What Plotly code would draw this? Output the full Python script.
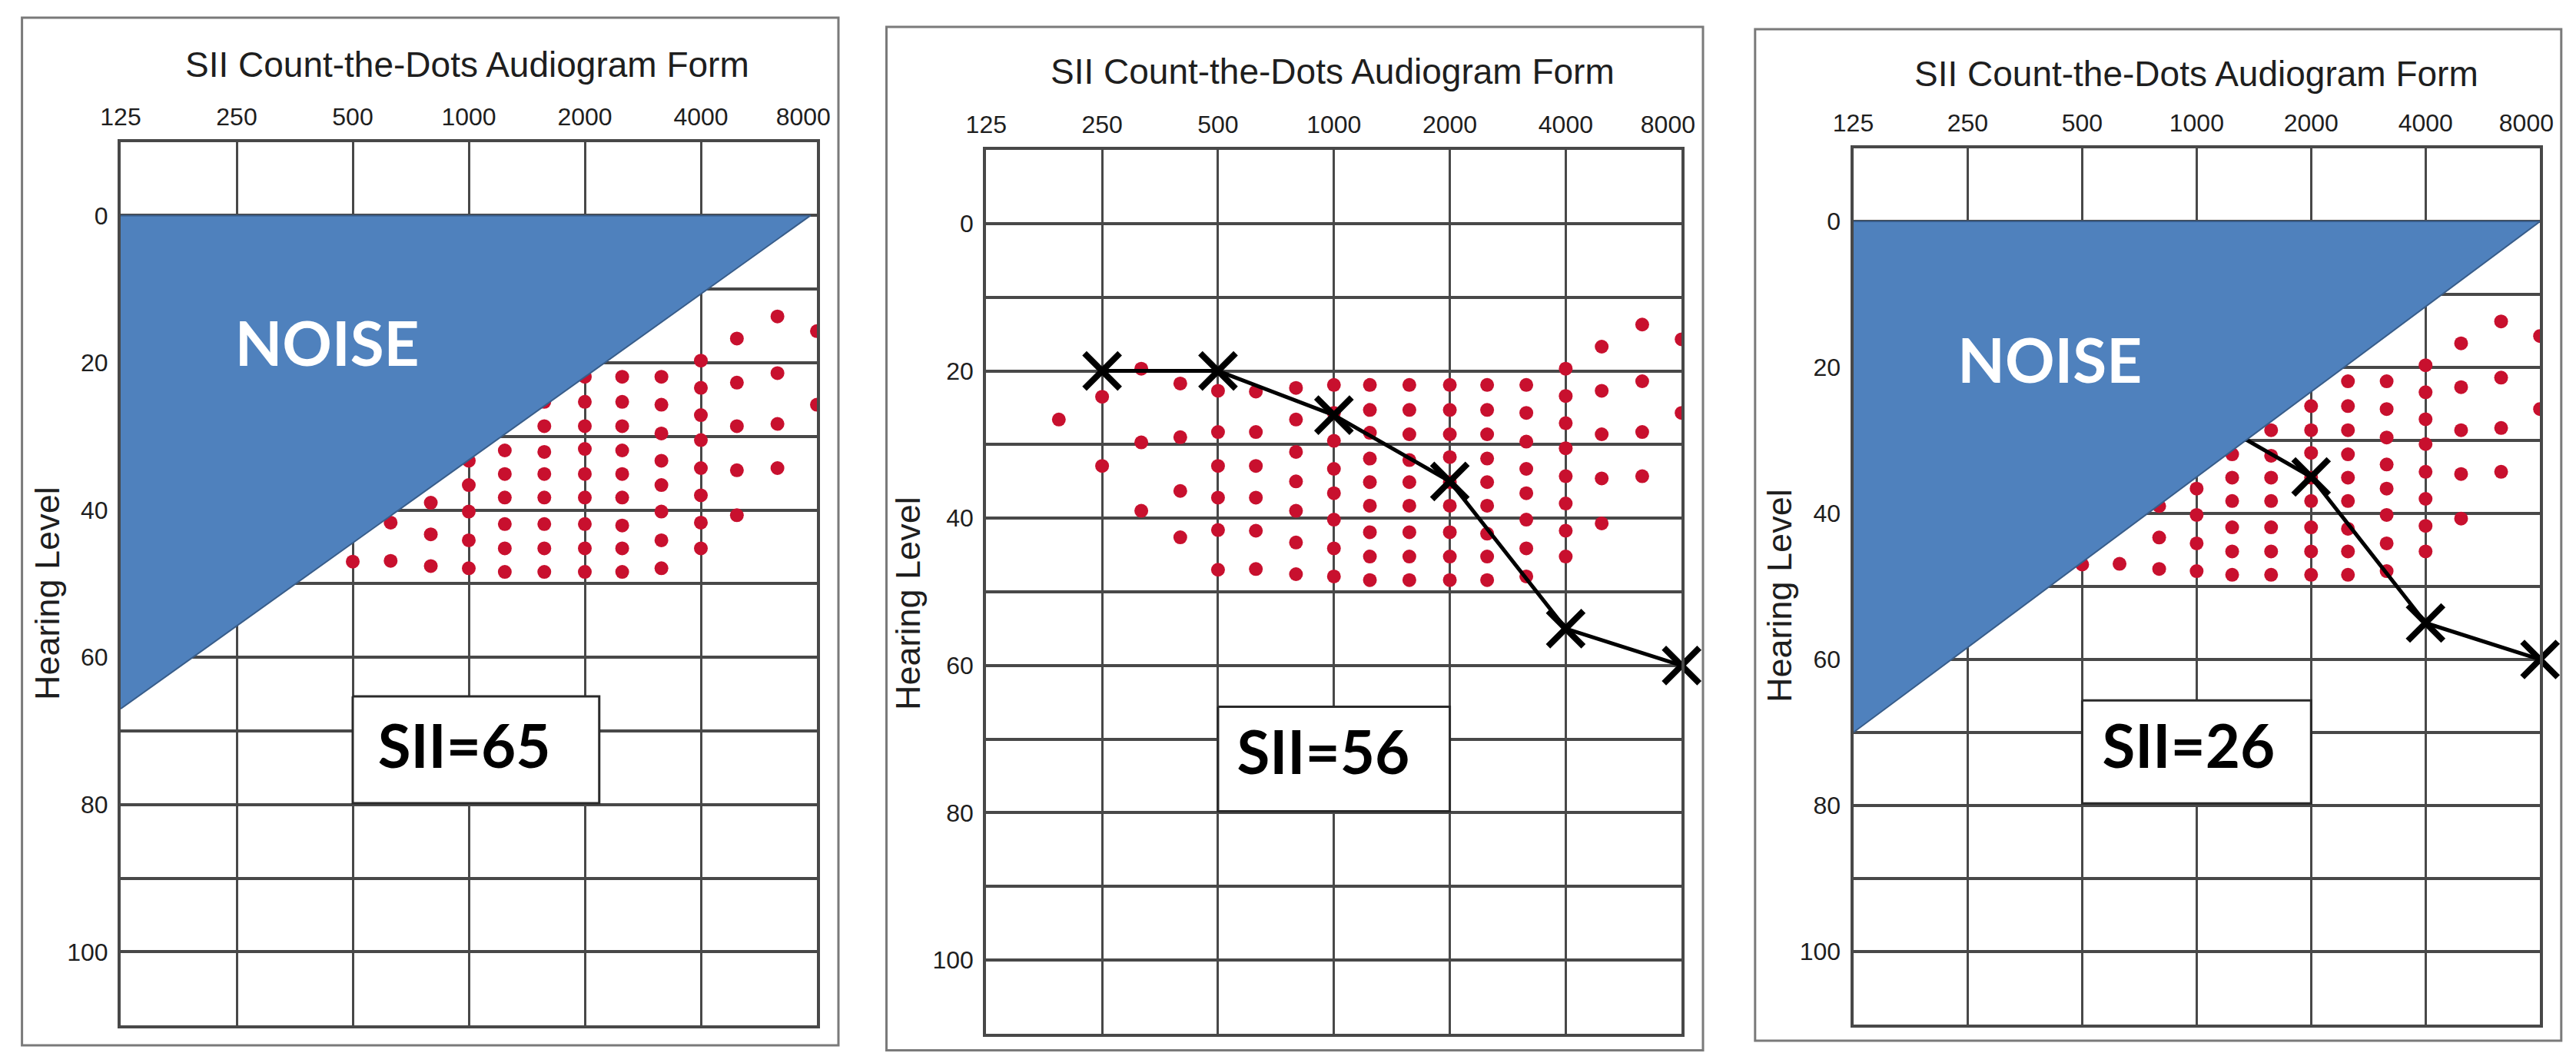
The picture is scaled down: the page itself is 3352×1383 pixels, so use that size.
import numpy as np
import plotly.graph_objects as go

W, H = 3352, 1383

# ---------------- data ----------------
freq_ticks = [125, 250, 500, 1000, 2000, 4000, 8000]
freq_tick_labels = ["125", "250", "500", "1000", "2000", "4000", "8000\u00a0\u00a0\u00a0\u00a0"]
level_ticks = [0, 20, 40, 60, 80, 100]

dot_columns_hz = [193, 250, 316, 399, 500, 627, 797, 1000, 1240, 1570,
                  2000, 2500, 3160, 4000, 4960, 6320, 8000]
dot_levels_db = [
    [26.6],
    [23.5, 32.9],
    [19.7, 29.7, 39.0],
    [21.7, 29.0, 36.3, 42.6],
    [22.7, 28.3, 32.9, 37.2, 41.6, 47.0],
    [22.8, 28.3, 32.9, 37.2, 41.7, 46.9],
    [22.3, 26.6, 31.0, 35.0, 39.0, 43.3, 47.6],
    [21.9, 25.7, 29.5, 33.3, 36.6, 40.2, 44.1, 47.9],
    [21.9, 25.3, 28.4, 31.9, 35.1, 38.3, 41.9, 45.2, 48.4],
    [21.9, 25.3, 28.6, 32.1, 35.1, 38.3, 41.9, 45.2, 48.4],
    [21.9, 25.3, 28.6, 31.7, 35.1, 38.3, 41.9, 45.2, 48.4],
    [21.9, 25.3, 28.6, 31.9, 35.1, 38.3, 42.1, 45.2, 48.4],
    [21.9, 25.7, 29.6, 33.3, 36.6, 40.2, 44.1, 47.9],
    [19.7, 23.4, 27.1, 30.5, 34.3, 38.0, 41.7, 45.2],
    [16.7, 22.7, 28.6, 34.6, 40.7],
    [13.7, 21.4, 28.3, 34.3],
    [15.7, 25.7],
]

audiogram_hz = [250, 500, 1000, 2000, 4000, 8000]
audiogram_db = [20, 20, 26, 35, 55, 60]

noise_left_hz = [125, 7700, 125]
noise_left_db = [0, 0, 67]
noise_right_hz = [125, 8000, 125]
noise_right_db = [0, 0, 70]

sii_labels = ["SII=65", "SII=56", "SII=26"]
sii_box_hz = [(500, 2180), (500, 2000), (500, 2000)]
sii_box_db = [(65.3, 79.8), (65.6, 79.8), (65.6, 79.7)]
sii_text_pos = [(973, 73.0), (938, 72.7), (952, 72.8)]
noise_text_pos = {0: (429, 18.3), 2: (411, 20.0)}

title_text = "SII Count-the-Dots Audiogram Form"
ylabel_text = "Hearing Level"

# ---------------- layout geometry (pixels in the target picture) ----------------
plot_px = [  # left, top, right, bottom
    (157, 184.6, 1063, 1334.2),
    (1283.3, 195.2, 2188.2, 1344.8),
    (2411.5, 193, 3305.2, 1333),
]
border_px = [
    (28.6, 23, 1091, 1360),
    (1153.5, 35, 2216, 1366.5),
    (2283.8, 38, 3332.8, 1354),
]
title_px = [(608, 84), (1734, 93), (2858, 96)]
ylabel_px = [(61, 772), (1181, 785), (2315, 775)]
PAGE_OFFSET = 8  # default page margin around the plot div

GRID = "#484848"
DOT = "#C8102E"
NOISE_FILL = "#4F81BD"
NOISE_LINE = "#385D8A"
FONT = "Liberation Sans, Arial, Helvetica, sans-serif"


def px(xp):
    return (xp - PAGE_OFFSET) / W


def py(yp):
    return 1 - (yp - PAGE_OFFSET) / H


dot_x = [f for f, lv in zip(dot_columns_hz, dot_levels_db) for _ in lv]
dot_y = [v for lv in dot_levels_db for v in lv]

fig = go.Figure()
layout = dict(
    width=W, height=H,
    margin=dict(l=0, r=0, t=0, b=0, pad=0, autoexpand=False),
    paper_bgcolor="white", plot_bgcolor="white",
    showlegend=False,
    shapes=[], annotations=[],
)

for i in range(3):
    sfx = "" if i == 0 else str(i + 1)
    xa, ya = "x" + sfx, "y" + sfx
    l, t, r, b = plot_px[i]
    layout["xaxis" + sfx] = dict(
        type="log", range=[np.log10(125), np.log10(8000)],
        domain=[px(l), px(r)], anchor=ya, side="top", automargin=False,
        tickmode="array", tickvals=freq_ticks, ticktext=freq_tick_labels,
        ticks="", showgrid=True, gridcolor=GRID, gridwidth=3,
        showline=True, linecolor=GRID, linewidth=4, mirror=True,
        zeroline=False, ticklabelstandoff=5,
        tickfont=dict(family=FONT, size=32, color="#1e1e1e"),
        fixedrange=True,
    )
    yt = list(range(-10, 111, 10))
    layout["yaxis" + sfx] = dict(
        range=[110, -10], domain=[py(b), py(t)], anchor=xa, automargin=False,
        tickmode="array", tickvals=yt,
        ticktext=[str(v) if v in level_ticks else "" for v in yt],
        ticks="", showgrid=True, gridcolor=GRID, gridwidth=4,
        showline=True, linecolor=GRID, linewidth=4, mirror=True,
        zeroline=False, ticklabelstandoff=6,
        tickfont=dict(family=FONT, size=32, color="#1e1e1e"),
        fixedrange=True,
    )

    # dots
    fig.add_trace(go.Scatter(
        x=dot_x, y=dot_y, mode="markers", xaxis=xa, yaxis=ya,
        marker=dict(symbol="circle", size=18, color=DOT, line=dict(width=0)),
        hoverinfo="skip"))

    # audiogram
    if i in (1, 2):
        fig.add_trace(go.Scatter(
            x=audiogram_hz, y=audiogram_db, mode="lines+markers",
            xaxis=xa, yaxis=ya, cliponaxis=False,
            line=dict(color="black", width=5),
            marker=dict(symbol="x-thin", size=46, color="black",
                        line=dict(width=8, color="black")),
            hoverinfo="skip"))

    # noise
    if i in (0, 2):
        nx, ny = (noise_left_hz, noise_left_db) if i == 0 else (noise_right_hz, noise_right_db)
        fig.add_trace(go.Scatter(
            x=nx, y=ny, mode="lines", fill="toself", xaxis=xa, yaxis=ya,
            fillcolor=NOISE_FILL, line=dict(color=NOISE_LINE, width=2),
            hoverinfo="skip"))
        tx, ty = noise_text_pos[i]
        fig.add_trace(go.Scatter(
            x=[tx], y=[ty], mode="text", text=["NOISE"], xaxis=xa, yaxis=ya,
            textposition="middle center",
            textfont=dict(family="Lato, Open Sans, sans-serif", size=80,
                          color="white", weight="bold"),
            hoverinfo="skip"))

    # SII box
    (bx0, bx1), (by0, by1) = sii_box_hz[i], sii_box_db[i]
    fig.add_trace(go.Scatter(
        x=[bx0, bx1, bx1, bx0, bx0], y=[by0, by0, by1, by1, by0],
        mode="lines", fill="toself", fillcolor="white",
        line=dict(color="#2a2a2a", width=3), xaxis=xa, yaxis=ya,
        hoverinfo="skip"))
    sx, sy = sii_text_pos[i]
    fig.add_trace(go.Scatter(
        x=[sx], y=[sy], mode="text", text=[sii_labels[i]], xaxis=xa, yaxis=ya,
        textposition="middle center",
        textfont=dict(family="Lato, Open Sans, sans-serif", size=78,
                      color="black", weight="bold"),
        hoverinfo="skip"))

    # panel border
    bl, bt, br, bb = border_px[i]
    layout["shapes"].append(dict(
        type="rect", xref="paper", yref="paper",
        x0=px(bl), x1=px(br), y0=py(bb), y1=py(bt),
        line=dict(color="#7a7a7a", width=3), fillcolor="rgba(0,0,0,0)",
        layer="below"))

    # title
    tx, ty = title_px[i]
    layout["annotations"].append(dict(
        text=title_text, xref="paper", yref="paper", x=px(tx), y=py(ty),
        xanchor="center", yanchor="middle", showarrow=False,
        font=dict(family=FONT, size=46, color="#1e1e1e")))
    # y label
    lx, ly = ylabel_px[i]
    layout["annotations"].append(dict(
        text=ylabel_text, xref="paper", yref="paper", x=px(lx), y=py(ly),
        xanchor="center", yanchor="middle", showarrow=False, textangle=-90,
        font=dict(family=FONT, size=45, color="#1e1e1e")))

fig.update_layout(**layout)
fig.write_html("out.html")
